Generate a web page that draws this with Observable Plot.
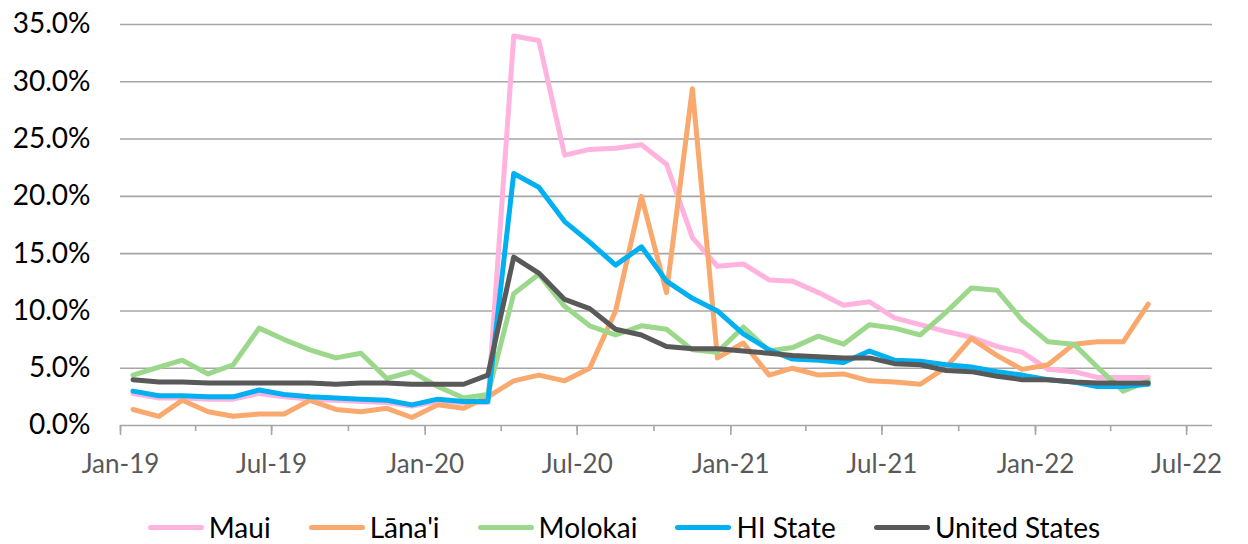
<!DOCTYPE html>
<html><head><meta charset="utf-8">
<script src="https://cdn.jsdelivr.net/npm/d3@7"></script>
<script src="https://cdn.jsdelivr.net/npm/@observablehq/plot@0.6"></script>
<style>
body{margin:0;background:#fff;font-family:Lato,"Open Sans",sans-serif;overflow:hidden;}
#chart svg{display:block;}
#legend{display:flex;justify-content:center;align-items:center;height:74px;font-size:28px;color:#000;}
#legend .item{display:flex;align-items:center;margin:0 19px;}
#legend .sw{width:56px;height:5px;border-radius:3px;margin-right:5px;}
</style></head>
<body><div id="chart"></div><div id="legend"></div>
<script>
const months = ["2019-01","2019-02","2019-03","2019-04","2019-05","2019-06","2019-07","2019-08","2019-09","2019-10","2019-11","2019-12",
"2020-01","2020-02","2020-03","2020-04","2020-05","2020-06","2020-07","2020-08","2020-09","2020-10","2020-11","2020-12",
"2021-01","2021-02","2021-03","2021-04","2021-05","2021-06","2021-07","2021-08","2021-09","2021-10","2021-11","2021-12",
"2022-01","2022-02","2022-03","2022-04","2022-05"];
const seriesNames = ["Maui","Lāna'i","Molokai","HI State","United States"];
const seriesColors = ["#FFB3DE","#F9A86E","#9BD88B","#00B0F0","#595959"];
const maui = [2.8,2.4,2.4,2.3,2.3,2.8,2.5,2.3,2.2,2.1,2.0,1.7,2.1,2.0,2.0,
  34.0,33.6,23.6,24.1,24.2,24.5,22.8,16.4,13.9,14.1,12.7,12.6,11.6,10.5,10.8,9.4,8.8,8.2,7.7,6.9,6.4,4.9,4.7,4.2,4.2,4.2];
const lanai = [1.4,0.8,2.2,1.2,0.8,1.0,1.0,2.2,1.4,1.2,1.5,0.7,1.8,1.5,2.5,
  3.9,4.4,3.9,5.0,10.0,20.0,11.6,29.4,5.9,7.2,4.4,5.0,4.4,4.5,3.9,3.8,3.6,5.1,7.6,6.1,4.9,5.3,7.1,7.3,7.3,10.6];
const molokai = [4.4,5.1,5.7,4.5,5.3,8.5,7.5,6.6,5.9,6.3,4.1,4.7,3.4,2.4,2.7,
  11.5,13.2,10.4,8.7,7.9,8.7,8.4,6.6,6.4,8.6,6.5,6.8,7.8,7.1,8.8,8.5,7.9,9.9,12.0,11.8,9.2,7.3,7.1,5.1,3.0,3.9];
const hiState = [3.0,2.6,2.6,2.5,2.5,3.1,2.7,2.5,2.4,2.3,2.2,1.8,2.3,2.1,2.1,
  22.0,20.8,17.8,16.0,14.0,15.6,12.6,11.1,10.0,8.0,6.6,5.8,5.7,5.5,6.5,5.7,5.6,5.3,5.1,4.7,4.4,4.0,3.8,3.4,3.4,3.6];
const unitedStates = [4.0,3.8,3.8,3.7,3.7,3.7,3.7,3.7,3.6,3.7,3.7,3.6,3.6,3.6,4.4,
  14.7,13.3,11.0,10.2,8.4,7.9,6.9,6.7,6.7,6.5,6.3,6.1,6.0,5.9,5.9,5.4,5.3,4.8,4.7,4.3,4.0,4.0,3.8,3.7,3.7,3.7];
const xTickLabels = ["Jan-19","Jul-19","Jan-20","Jul-20","Jan-21","Jul-21","Jan-22","Jul-22"];
const yTicks = [0,5,10,15,20,25,30,35];

const parseMonth = d3.utcParse("%Y-%m");
const parseTick = d3.utcParse("%b-%y");
const allSeries = [maui, lanai, molokai, hiState, unitedStates];
const rows = [];
allSeries.forEach((vals, s) => vals.forEach((v, i) => rows.push({
  date: d3.utcDay.offset(parseMonth(months[i]), 15), series: seriesNames[s], value: v
})));
const majorTicks = xTickLabels.map(parseTick);
const xStart = majorTicks[0];
const xEnd = d3.utcMonth.offset(majorTicks[majorTicks.length - 1], 1);
const minorTicks = d3.utcMonth.every(3).range(xStart, xEnd);

const chart = Plot.plot({
  width: 1248, height: 490,
  marginLeft: 120, marginRight: 36, marginTop: 24, marginBottom: 65,
  style: {fontFamily: "Lato, 'Open Sans', sans-serif", background: "#fff"},
  x: {type: "utc", domain: [xStart, xEnd]},
  y: {domain: [0, 35]},
  color: {domain: seriesNames, range: seriesColors},
  marks: [
    Plot.gridY(yTicks, {stroke: "#a6a6a6", strokeOpacity: 1, strokeWidth: 1.6}),
    Plot.axisY(yTicks, {tickSize: 0, tickPadding: 30, fontSize: 28, fill: "#000",
      tickFormat: d => d.toFixed(1) + "%", label: null}),
    Plot.axisX(minorTicks, {tickSize: 6, stroke: "#a6a6a6", strokeWidth: 1.6, tickFormat: () => "", label: null}),
    Plot.axisX(majorTicks, {tickSize: 10, tickPadding: 19, stroke: "#a6a6a6", strokeWidth: 1.6,
      fontSize: 26, fill: "#595959", tickFormat: d3.utcFormat("%b-%y"), label: null}),
    Plot.line(rows, {x: "date", y: "value", z: "series", stroke: "series",
      strokeWidth: 5, strokeLinejoin: "round", strokeLinecap: "round"})
  ]
});
document.getElementById("chart").appendChild(chart);

const legend = document.getElementById("legend");
seriesNames.forEach((name, i) => {
  const item = document.createElement("div");
  item.className = "item";
  const sw = document.createElement("span");
  sw.className = "sw";
  sw.style.background = seriesColors[i];
  const t = document.createElement("span");
  t.textContent = name;
  item.appendChild(sw); item.appendChild(t);
  legend.appendChild(item);
});
</script></body></html>
